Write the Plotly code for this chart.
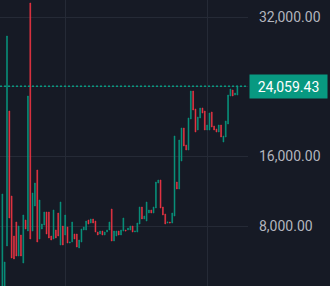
import plotly.graph_objects as go

# candle colour (G=up, R=down), top and bottom of each bar (price)
colors = list("GGGRRRRGRGRGRGGRGGGRRRGRRGRGRGGRRGGGGRGRRRGRGGGRGGRGGRGGRGGGRGGGRGGGRRRGRGGRGGRRGGRRGGRRGGRRRGRGGGGRGG")
tops = [11675, 3867, 29818, 21206, 11445, 6852, 8460, 8000, 6967, 9264,
        8689, 22928, 33608, 11790, 12938, 14431, 10986, 8230, 9608, 9608,
        9608, 6852, 9838, 7541, 9493, 10756, 8000, 9264, 7886, 6163,
        8460, 7082, 7082, 6393, 7656, 7886, 8575, 8689, 8804, 8804,
        8575, 7311, 7426, 7426, 7311, 7541, 8460, 9952, 7426, 7426,
        7426, 7541, 8919, 7541, 7771, 8000, 8000, 7426, 8345, 10182,
        10182, 9149, 10756, 9838, 9838, 10182, 13053, 13283, 13283, 10182,
        9378, 8460, 8460, 9493, 18335, 13053, 17876, 19254, 19254, 17302,
        20402, 23502, 23502, 21436, 20517, 21550, 21550, 21206, 19598, 20976,
        21091, 19483, 19139, 19598, 19598, 18335, 20058, 23043, 23732, 23617,
        23273, 24059.43]
bottoms = [600, 500, 5704, 8919, 4326, 4211, 4556, 4556, 4556, 3752,
           7656, 7426, 6508, 7426, 10297, 6163, 6508, 7656, 8115, 7082,
           6622, 6393, 6508, 6622, 6852, 5819, 5819, 6967, 6048, 6048,
           6163, 6508, 5589, 5474, 6163, 7541, 7541, 8230, 8345, 8345,
           7311, 6967, 7082, 6967, 6967, 7311, 7541, 6278, 6278, 6852,
           6967, 6967, 7426, 7426, 7541, 7541, 7311, 7311, 7311, 8230,
           8804, 8804, 8575, 9493, 9493, 9493, 10067, 12938, 10067, 9264,
           8230, 8345, 8345, 8345, 9149, 12249, 12249, 15464, 17187, 16727,
           16727, 20287, 21321, 18794, 19024, 20402, 20976, 19024, 19024, 19024,
           19369, 19024, 18794, 18794, 18220, 17646, 18220, 19713, 22928, 22928,
           23043, 23043]

tick_vals = [8000, 16000, 24000, 32000]
tick_text = ["8,000.00", "16,000.00", "", "32,000.00"]
time_grid = [27, 88]
last_price = 24059.43

UP, DOWN = "#089981", "#f23645"
BG = "#161a25"
GRID = "#252a36"

x = list(range(len(tops)))
opens = [b if c == "G" else t for c, t, b in zip(colors, tops, bottoms)]
closes = [t if c == "G" else b for c, t, b in zip(colors, tops, bottoms)]

fig = go.Figure(go.Candlestick(
    x=x, open=opens, high=tops, low=bottoms, close=closes,
    increasing=dict(line=dict(color=UP, width=0.6), fillcolor=UP),
    decreasing=dict(line=dict(color=DOWN, width=0.6), fillcolor=DOWN),
    whiskerwidth=0, hoverinfo="skip",
))

fig.add_shape(type="line", xref="paper", x0=0, x1=1, yref="y", y0=last_price, y1=last_price,
              line=dict(color=UP, width=1.5, dash="2px,2px"))

fig.add_annotation(xref="paper", x=1, yref="y", y=last_price, xanchor="left", yanchor="middle",
                   xshift=1, text=f"{last_price:,.2f}", showarrow=False,
                   bgcolor=UP, width=75, height=21, borderpad=1, align="center",
                   font=dict(family="Roboto", size=14, color="#ffffff"))

fig.update_layout(
    width=330, height=286,
    margin=dict(l=0, r=82, t=0, b=0),
    paper_bgcolor=BG, plot_bgcolor=BG,
    showlegend=False, boxgap=0.5,
    font=dict(family="Roboto", size=14, color="#b2b5be"),
    xaxis=dict(range=[-1.01, 105.57], rangeslider=dict(visible=False),
               tickvals=time_grid, showticklabels=False, showgrid=True,
               gridcolor=GRID, gridwidth=1, zeroline=False, showline=False),
    yaxis=dict(side="right", range=[1111, 33952], tickvals=tick_vals, ticktext=tick_text,
               showgrid=True, gridcolor=GRID, gridwidth=1, zeroline=False, showline=False,
               ticks="", ticklabelstandoff=10),
)

fig.write_html("out.html")
